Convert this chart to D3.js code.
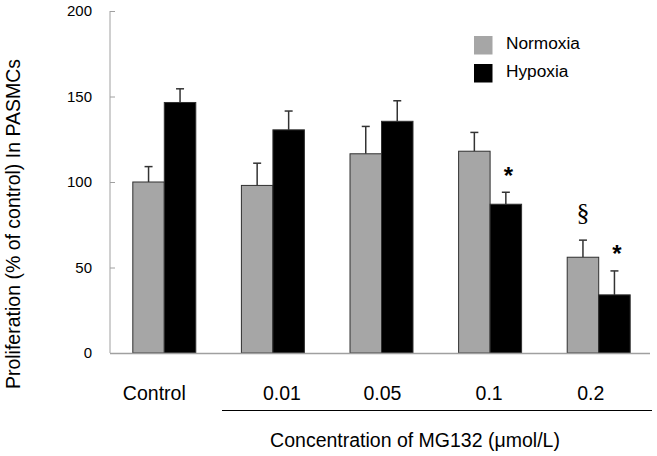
<!DOCTYPE html>
<html><head><meta charset="utf-8">
<script src="https://cdn.jsdelivr.net/npm/d3@7"></script>
<style>body{margin:0;background:#fff}svg{display:block;font-family:"Liberation Sans",Arial,sans-serif}</style>
</head><body>
<script>
const categories = ["Control","0.01","0.05","0.1","0.2"];
const seriesNames = ["Normoxia","Hypoxia"];
const normoxia = [100, 98, 116.5, 118, 56];
const hypoxia = [146.5, 130.5, 135.5, 87, 34];
const normoxiaErr = [9, 13, 16, 11, 10];
const hypoxiaErr = [8, 11, 12, 7, 14];
const marks = [{cat:"0.1", series:"Hypoxia", text:"*"},{cat:"0.2", series:"Normoxia", text:"§"},{cat:"0.2", series:"Hypoxia", text:"*"}];
const yTicks = [0,50,100,150,200];
const xTitle = "Concentration of MG132 (μmol/L)";
const yTitle = "Proliferation (% of control) In PASMCs";

const W=657,H=456;
const labelShift=[-10,9,1,-1,-8];
const svg=d3.select("body").append("svg").attr("width",W).attr("height",H);
const x0=110,x1=653,yTop=11,yBot=353;
const x=d3.scaleBand().domain(categories).range([x0,x1]).paddingInner(0.42).paddingOuter(0.21);
const xs=d3.scaleBand().domain(seriesNames).range([0,x.bandwidth()]);
const y=d3.scaleLinear().domain([0,200]).range([yBot,yTop]);
const colors={Normoxia:"#a6a6a6",Hypoxia:"#000000"};
const data=categories.map((c,i)=>({c,vals:[{s:"Normoxia",v:normoxia[i],e:normoxiaErr[i]},{s:"Hypoxia",v:hypoxia[i],e:hypoxiaErr[i]}]}));

// y axis
const ya=svg.append("g").attr("transform",`translate(${x0},0)`).call(d3.axisLeft(y).tickValues(yTicks).tickSize(-5).tickPadding(18));
ya.select(".domain").attr("stroke","#a0a0a0").attr("d",`M0,${yTop}V${yBot}`);
ya.selectAll(".tick line").attr("stroke","#a0a0a0");
ya.selectAll(".tick text").attr("font-size",15).attr("fill","#000").attr("font-family","Liberation Sans, Arial");

// error bars
const g=svg.append("g");
data.forEach(d=>{
  d.vals.forEach(b=>{
    const cx=x(d.c)+xs(b.s)+xs.bandwidth()/2;
    g.append("line").attr("x1",cx).attr("x2",cx).attr("y1",y(b.v)).attr("y2",y(b.v+b.e)).attr("stroke","#333").attr("stroke-width",1.5);
    g.append("line").attr("x1",cx-4).attr("x2",cx+4).attr("y1",y(b.v+b.e)).attr("y2",y(b.v+b.e)).attr("stroke","#333").attr("stroke-width",1.5);
  });
});
// bars
data.forEach(d=>{
  d.vals.forEach(b=>{
    g.append("rect").attr("x",x(d.c)+xs(b.s)).attr("width",xs.bandwidth()).attr("y",y(b.v)).attr("height",y(0)-y(b.v))
      .attr("fill",colors[b.s]).attr("stroke","#303030").attr("stroke-width",1);
  });
});
// x axis line
svg.append("line").attr("x1",x0).attr("x2",x1-3).attr("y1",yBot+0.5).attr("y2",yBot+0.5).attr("stroke","#a0a0a0").attr("stroke-width",1.5);

// significance marks
marks.forEach(m=>{
  const i=categories.indexOf(m.cat);
  const b=data[i].vals.find(v=>v.s===m.series);
  const cx=x(m.cat)+xs(m.series)+xs.bandwidth()/2;
  const isStar=m.text==="*";
  svg.append("text").attr("x",cx+(isStar?2.5:0)).attr("y",y(b.v+b.e)-(isStar?8.5:19)).attr("text-anchor","middle")
    .attr("font-size",isStar?24:26).attr("font-weight",isStar?"bold":"normal")
    .attr("font-family",isStar?"Liberation Sans, Arial":"Liberation Serif, Times New Roman, serif")
    .text(m.text);
});

// category labels
categories.forEach((c,i)=>{
  svg.append("text").attr("x",x(c)+x.bandwidth()/2+labelShift[i]).attr("y",400).attr("text-anchor","middle").attr("font-size",19.5).text(c);
});
svg.append("line").attr("x1",222).attr("x2",652).attr("y1",410.5).attr("y2",410.5).attr("stroke","#000").attr("stroke-width",1);
svg.append("text").attr("x",415).attr("y",447).attr("text-anchor","middle").attr("font-size",19.5).text(xTitle);

// y title
svg.append("text").attr("transform",`translate(20,224) rotate(-90)`).attr("text-anchor","middle").attr("font-size",19.5).text(yTitle);

// legend
seriesNames.forEach((s,i)=>{
  svg.append("rect").attr("x",474).attr("y",36+i*28).attr("width",18.5).attr("height",18.5).attr("fill",colors[s]);
  svg.append("text").attr("x",506).attr("y",48.5+i*28.3).attr("font-size",17.3).text(s);
});
</script>
</body></html>
